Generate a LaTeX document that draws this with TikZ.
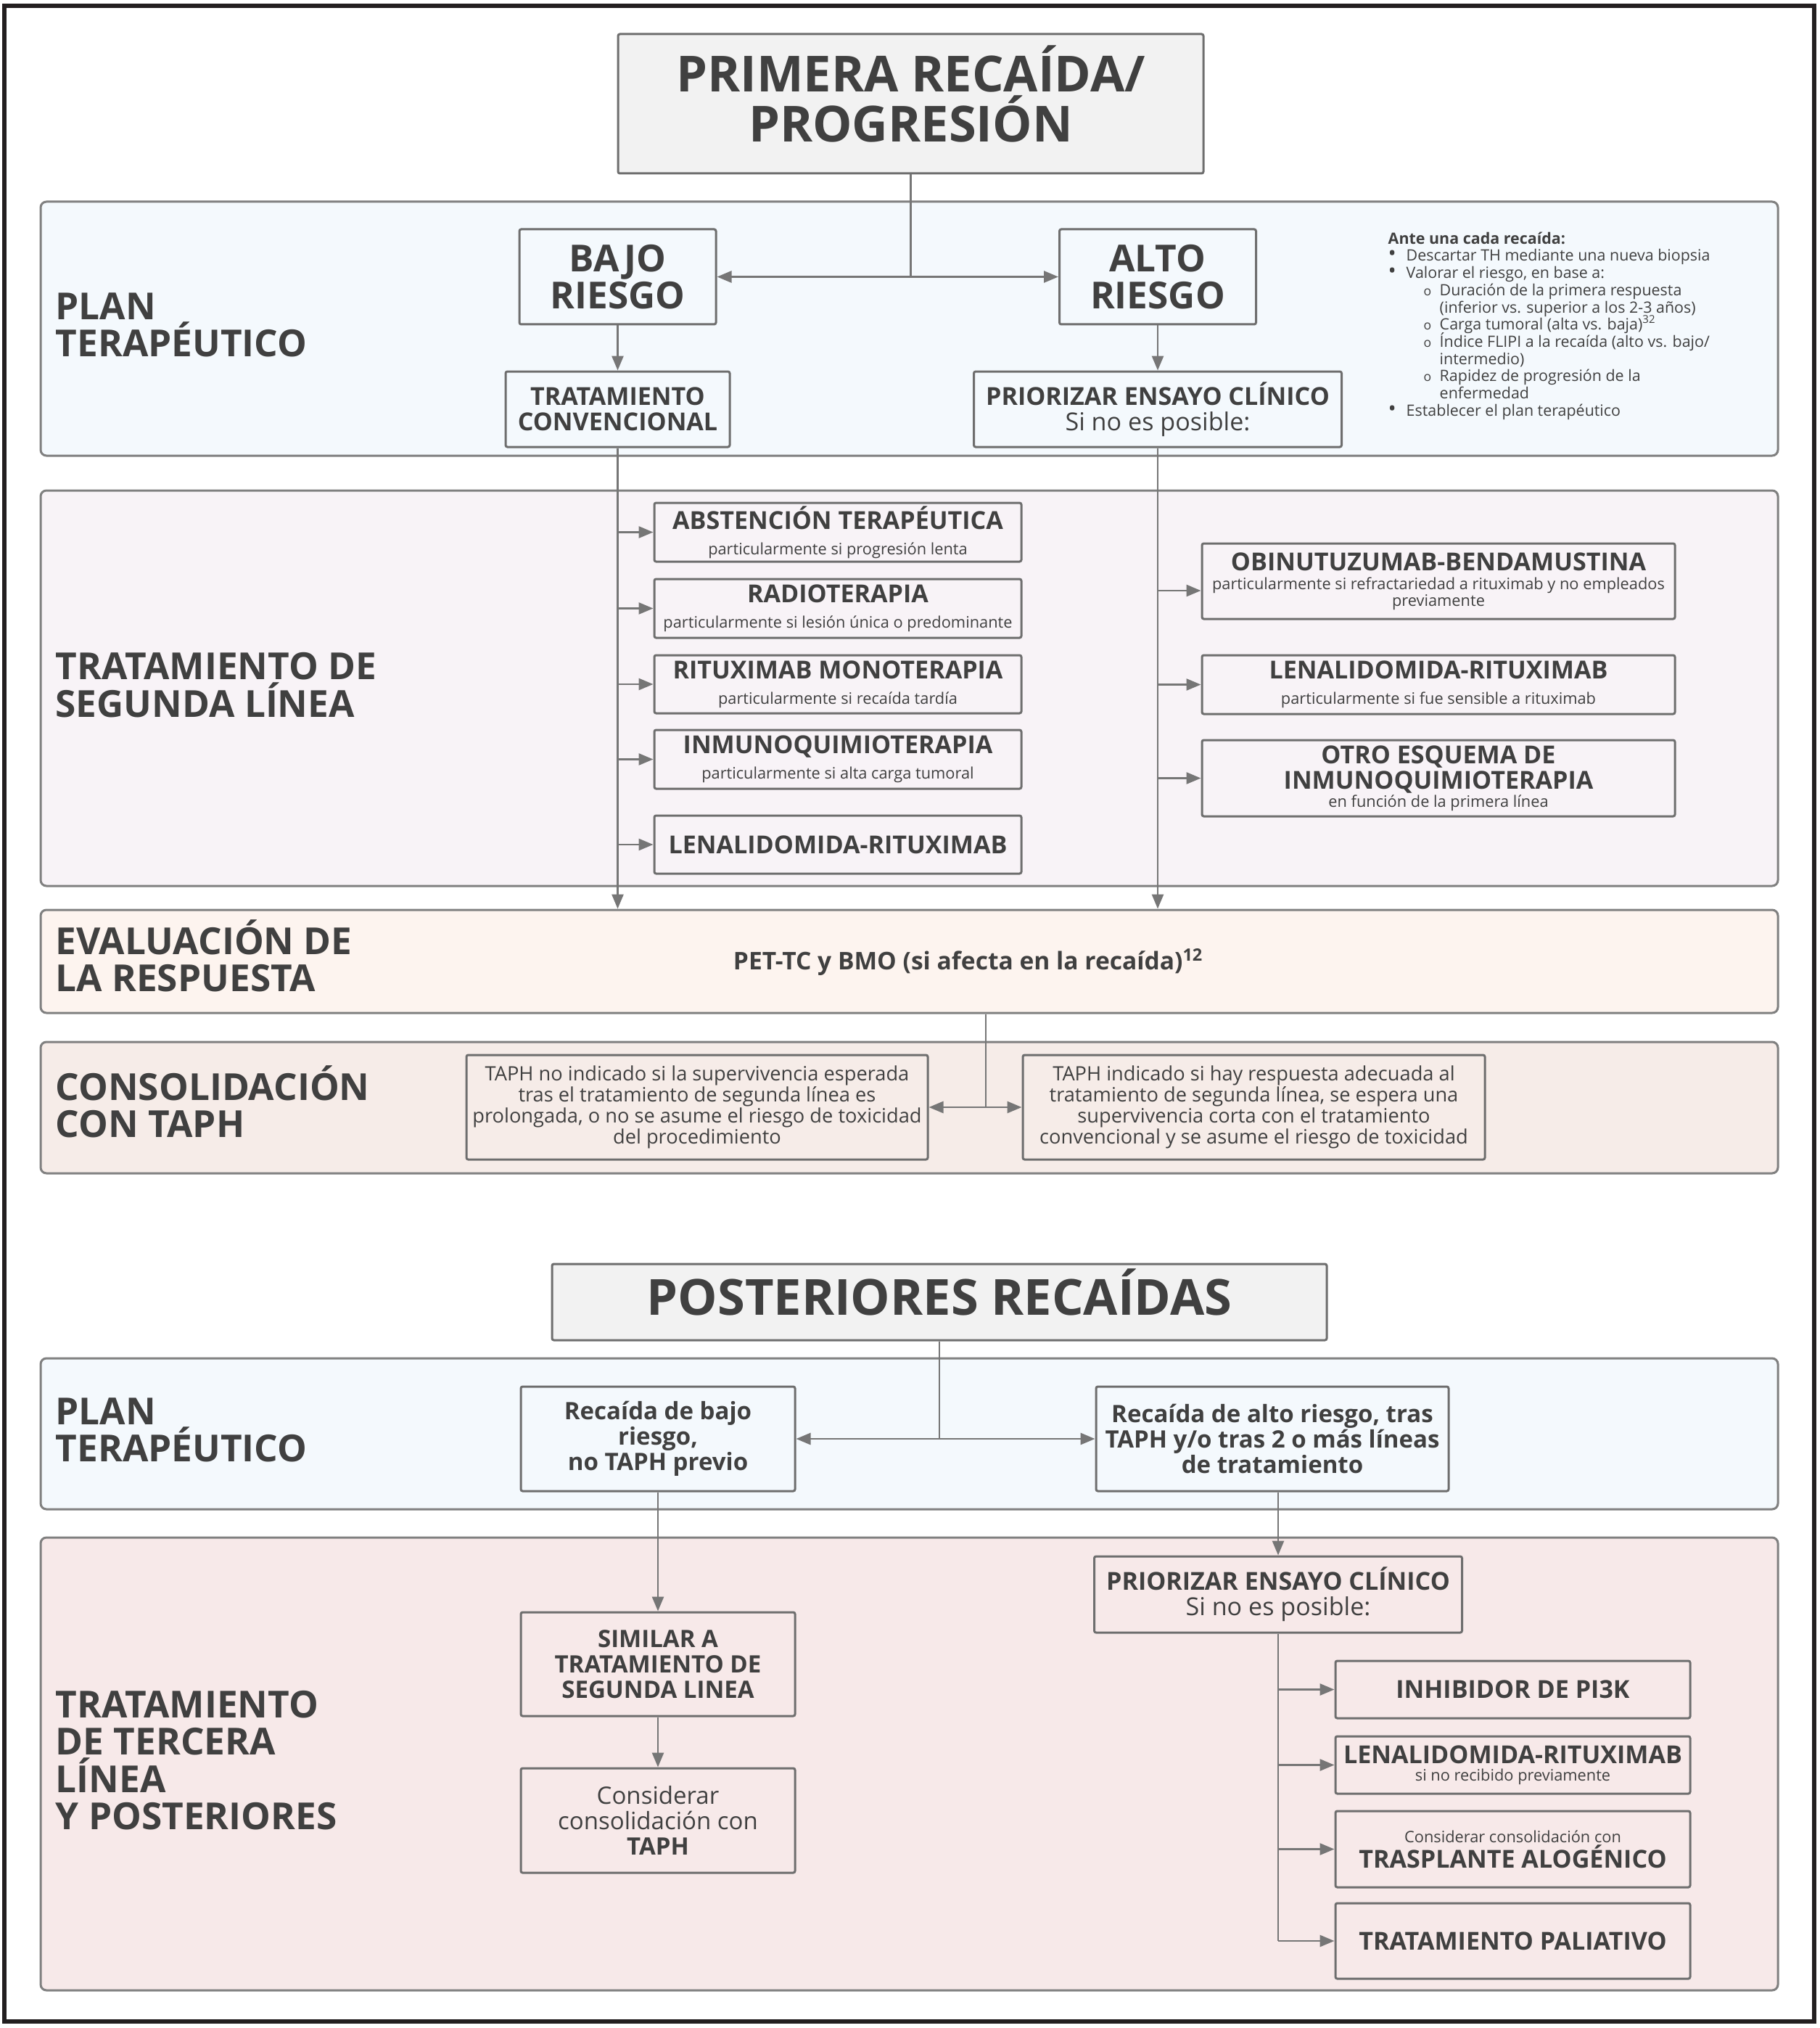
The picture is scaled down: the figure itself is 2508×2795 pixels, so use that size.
\documentclass[tikz,border=0pt]{standalone}
\usepackage{fontspec}
\setmainfont{Open Sans}
\usetikzlibrary{arrows.meta,calc}
\definecolor{txt}{HTML}{404040}
\definecolor{bline}{HTML}{808080}
\definecolor{xline}{HTML}{6E6E6E}
\definecolor{cline}{HTML}{767676}
\definecolor{fblue}{HTML}{F4F9FD}
\definecolor{fpurp}{HTML}{F8F3F7}
\definecolor{fpeach}{HTML}{FDF4EF}
\definecolor{fbrown}{HTML}{F6ECE8}
\definecolor{fpink}{HTML}{F7E9E9}
\definecolor{ftitle}{HTML}{F2F2F2}
\definecolor{framec}{HTML}{231F20}
\newcommand\fTitle{\fontsize{19.5}{19.6}\selectfont\bfseries}
\newcommand\fBand{\fontsize{14.6}{14.6}\selectfont\bfseries}
\newcommand\fHead{\fontsize{9.7}{10}\selectfont\bfseries}
\newcommand\fSub{\fontsize{6.2}{6.6}\selectfont\mdseries}
\newcommand\fCons{\fontsize{7.75}{8.3}\selectfont}
\newcommand\fLow{\fontsize{9.4}{10}\selectfont}
\newcommand\fNote{\fontsize{6.1}{6.75}\selectfont\lineskiplimit=-20pt\relax}
\newcommand\subo{{\fontsize{5}{5}\selectfont o}}
\newcommand\bul{{\fontsize{8.5}{6}\selectfont\textbullet}}
\begin{document}
\begin{tikzpicture}[x=0.1mm,y=-0.1mm,
  band/.style={draw=bline, line width=0.3mm, rounded corners=0.8mm, inner sep=0pt},
  box/.style={draw=xline, line width=0.3mm, rounded corners=0.25mm, inner sep=0pt, align=center, text=txt},
  lbl/.style={anchor=west, align=left, inner sep=0pt, font=\fBand, text=txt},
  conn/.style={draw=cline, line width=0.28mm},
  arr/.style={conn, -{Triangle[length=2mm,width=1.6mm]}}]
\useasboundingbox (0,0) rectangle (2508,2795);
\fill[white] (0,0) rectangle (2508,2795);
\draw[framec, line width=0.55mm] (6,8) rectangle (2501,2786);

% bands
\node[band, fill=fblue, minimum width=239.5mm, minimum height=35mm] (band1) at (1253.5,453) {};
\node[band, fill=fpurp, minimum width=239.5mm, minimum height=54.5mm] (band2) at (1253.5,948.5) {};
\node[band, fill=fpeach, minimum width=239.5mm, minimum height=14.2mm] (band3) at (1253.5,1325) {};
\node[band, fill=fbrown, minimum width=239.5mm, minimum height=18.1mm] (band4) at (1253.5,1526.5) {};
\node[band, fill=fblue, minimum width=239.5mm, minimum height=20.8mm] (band5) at (1253.5,1976) {};
\node[band, fill=fpink, minimum width=239.5mm, minimum height=62.4mm] (band6) at (1253.5,2431) {};

% band labels
\node[lbl] (lab1) at (76,448) {PLAN\\TERAPÉUTICO};
\node[lbl] (lab2) at (76,944) {TRATAMIENTO DE\\SEGUNDA LÍNEA};
\node[lbl] (lab3) at (76,1317) {EVALUACIÓN DE\\LA RESPUESTA};
\node[lbl] (lab4) at (76,1518) {CONSOLIDACIÓN\\CON TAPH};
\node[lbl] (lab5) at (76,1971) {PLAN\\TERAPÉUTICO};
\node[lbl] (lab6) at (76,2426) {TRATAMIENTO\\DE TERCERA\\LÍNEA\\Y POSTERIORES};

% titles
\node[box, fill=ftitle, minimum width=80.7mm, minimum height=19.2mm] (title) at (1255.5,143) {};
\node[inner sep=0pt, align=center, font=\fTitle, text=txt] (titletxt) at (1255.5,129) {PRIMERA RECAÍDA/\\PROGRESIÓN};
\node[box, fill=ftitle, minimum width=106.8mm, minimum height=10.5mm] (post) at (1295,1794.5) {};
\node[inner sep=0pt, font=\fTitle, text=txt] (posttxt) at (1295,1781) {POSTERIORES RECAÍDAS};

% band 1
\node[box, font=\fBand, minimum width=27.1mm, minimum height=13.1mm] (bajo) at (851.5,381.5) {BAJO\\RIESGO};
\node[box, font=\fBand, minimum width=27.1mm, minimum height=13.1mm] (alto) at (1596,381.5) {ALTO\\RIESGO};
\node[box, font=\fHead, minimum width=30.9mm, minimum height=10.4mm] (tratconv) at (851.5,564) {TRATAMIENTO\\CONVENCIONAL};
\node[box, font=\fHead, minimum width=50.7mm, minimum height=10.4mm] (prior1) at (1596,564) {PRIORIZAR ENSAYO CLÍNICO\\{\mdseries Si no es posible:}};
\node[anchor=north west, inner sep=0pt, align=left, font=\fNote, text=txt] (notes) at (1913,319) {%
\textbf{Ante una cada recaída:}\\
\makebox[2.5mm][l]{\bul}Descartar TH mediante una nueva biopsia\\
\makebox[2.5mm][l]{\bul}Valorar el riesgo, en base a:\\
\hspace*{4.9mm}\makebox[2.2mm][l]{\subo}Duración de la primera respuesta\\
\hspace*{7.1mm}(inferior vs. superior a los 2-3 años)\\
\hspace*{4.9mm}\makebox[2.2mm][l]{\subo}Carga tumoral (alta vs. baja)\textsuperscript{32}\\
\hspace*{4.9mm}\makebox[2.2mm][l]{\subo}Índice FLIPI a la recaída (alto vs. bajo/\\
\hspace*{7.1mm}intermedio)\\
\hspace*{4.9mm}\makebox[2.2mm][l]{\subo}Rapidez de progresión de la\\
\hspace*{7.1mm}enfermedad\\
\makebox[2.5mm][l]{\bul}Establecer el plan terapéutico};

% band 2 left
\node[box, font=\fHead, minimum width=50.6mm, minimum height=8.1mm] (abst) at (1155,733.5) {ABSTENCIÓN TERAPÉUTICA\\{\fSub particularmente si progresión lenta}};
\node[box, font=\fHead, minimum width=50.6mm, minimum height=8.1mm] (radio) at (1155,838.5) {RADIOTERAPIA\\{\fSub particularmente si lesión única o predominante}};
\node[box, font=\fHead, minimum width=50.6mm, minimum height=8.0mm] (ritux) at (1155,943) {RITUXIMAB MONOTERAPIA\\{\fSub particularmente si recaída tardía}};
\node[box, font=\fHead, minimum width=50.6mm, minimum height=8.1mm] (inmuno) at (1155,1046.5) {INMUNOQUIMIOTERAPIA\\{\fSub particularmente si alta carga tumoral}};
\node[box, font=\fHead, minimum width=50.6mm, minimum height=8.0mm] (lena1) at (1155,1164) {LENALIDOMIDA-RITUXIMAB};
% band 2 right
\node[box, font=\fHead, minimum width=65.2mm, minimum height=10.4mm] (obi) at (1983,801) {OBINUTUZUMAB-BENDAMUSTINA\\[-2.6pt]{\fSub particularmente si refractariedad a rituximab y no empleados}\\[-3.5pt]{\fSub previamente}};
\node[box, font=\fHead, minimum width=65.2mm, minimum height=8.1mm] (lena2) at (1983,943.5) {LENALIDOMIDA-RITUXIMAB\\{\fSub particularmente si fue sensible a rituximab}};
\node[box, font=\fHead, minimum width=65.2mm, minimum height=10.5mm] (otro) at (1983,1072.5) {OTRO ESQUEMA DE\\INMUNOQUIMIOTERAPIA\\[-2.9pt]{\fSub en función de la primera línea}};

% band 3
\node[inner sep=0pt, font=\fontsize{9.55}{10}\selectfont\bfseries, text=txt] (pet) at (1335,1326) {PET-TC y BMO (si afecta en la recaída)\textsuperscript{12}};

% band 4
\node[box, font=\fCons, minimum width=63.6mm, minimum height=14.4mm] (c1) at (961,1526) {TAPH no indicado si la supervivencia esperada\\tras el tratamiento de segunda línea es\\prolongada, o no se asume el riesgo de toxicidad\\del procedimiento};
\node[box, font=\fCons, minimum width=63.7mm, minimum height=14.4mm] (c2) at (1728.5,1526) {TAPH indicado si hay respuesta adecuada al\\tratamiento de segunda línea, se espera una\\supervivencia corta con el tratamiento\\convencional y se asume el riesgo de toxicidad};

% band 5
\node[box, font=\fLow\bfseries, minimum width=37.8mm, minimum height=14.4mm] (low) at (907,1983) {Recaída de bajo\\riesgo,\\no TAPH previo};
\node[box, font=\fLow\bfseries, minimum width=48.6mm, minimum height=14.4mm] (high) at (1754,1983) {Recaída de alto riesgo, tras\\TAPH y/o tras 2 o más líneas\\de tratamiento};

% band 6
\node[box, font=\fLow\bfseries, minimum width=37.8mm, minimum height=14.3mm] (similar) at (907,2293.5) {SIMILAR A\\TRATAMIENTO DE\\SEGUNDA LINEA};
\node[box, font=\fLow, minimum width=37.8mm, minimum height=14.4mm] (consid) at (907,2509) {Considerar\\consolidación con\\\textbf{TAPH}};
\node[box, font=\fHead, minimum width=50.7mm, minimum height=10.5mm] (prior2) at (1762,2197.5) {PRIORIZAR ENSAYO CLÍNICO\\{\mdseries Si no es posible:}};
\node[box, font=\fHead, minimum width=48.9mm, minimum height=7.9mm] (inhib) at (2085.5,2328.5) {INHIBIDOR DE PI3K};
\node[box, font=\fHead, minimum width=48.9mm, minimum height=7.9mm] (lena3) at (2085.5,2432.5) {LENALIDOMIDA-RITUXIMAB\\[-3.2pt]{\fSub si no recibido previamente}};
\node[box, font=\fHead, minimum width=48.9mm, minimum height=10.5mm] (trasp) at (2085.5,2548.5) {{\fSub Considerar consolidación con}\\TRASPLANTE ALOGÉNICO};
\node[box, font=\fHead, minimum width=48.9mm, minimum height=10.4mm] (paliat) at (2085.5,2675) {TRATAMIENTO PALIATIVO};

% connectors, top part
\coordinate (j1) at (title.south |- bajo.east);
\draw[conn] (title.south) -- (j1);
\draw[arr] (j1) -- (bajo.east);
\draw[arr] (j1) -- (alto.west);
\draw[arr] (bajo.south) -- (bajo.south |- tratconv.north);
\draw[arr] (alto.south) -- (alto.south |- prior1.north);
\draw[arr] (tratconv.south) -- (tratconv.south |- band3.north);
\foreach \n in {abst,radio,ritux,inmuno,lena1}
  \draw[arr] (tratconv.south |- \n.west) -- (\n.west);
\draw[arr] (prior1.south) -- (prior1.south |- band3.north);
\coordinate (obiin) at ($(obi.west)+(0,13)$);
\draw[arr] (prior1.south |- obiin) -- (obiin);
\foreach \n in {lena2,otro}
  \draw[arr] (prior1.south |- \n.west) -- (\n.west);
\coordinate (j3) at (1359,1526);
\draw[conn] (j3 |- band3.south) -- (j3);
\draw[arr] (j3) -- (c1.east);
\draw[arr] (j3) -- (c2.west);

% connectors, bottom part
\coordinate (j5) at (post.south |- low.east);
\draw[conn] (post.south) -- (j5);
\draw[arr] (j5) -- (low.east);
\draw[arr] (j5) -- (high.west);
\draw[arr] (low.south) -- (low.south |- similar.north);
\draw[arr] (similar.south) -- (similar.south |- consid.north);
\draw[arr] (prior2.north |- high.south) -- (prior2.north);
\draw[conn] (prior2.south) -- (prior2.south |- paliat.west);
\foreach \n in {inhib,lena3,trasp,paliat}
  \draw[arr] (prior2.south |- \n.west) -- (\n.west);
\end{tikzpicture}
\end{document}
